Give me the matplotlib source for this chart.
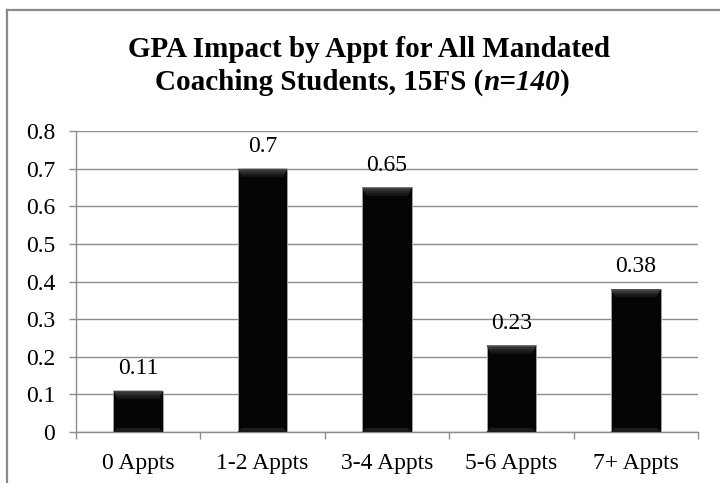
import matplotlib
matplotlib.use("Agg")
import matplotlib.pyplot as plt
from matplotlib.patches import Polygon
from matplotlib.lines import Line2D

categories = ["0 Appts", "1-2 Appts", "3-4 Appts", "5-6 Appts", "7+ Appts"]
values = [0.11, 0.70, 0.65, 0.23, 0.38]
value_labels = ["0.11", "0.7", "0.65", "0.23", "0.38"]
yticks = [0, 0.1, 0.2, 0.3, 0.4, 0.5, 0.6, 0.7, 0.8]
ytick_labels = ["0", "0.1", "0.2", "0.3", "0.4", "0.5", "0.6", "0.7", "0.8"]

plt.rcParams['font.family'] = ['Liberation Serif', 'DejaVu Serif']

W, H = 720, 483
fig = plt.figure(figsize=(W / 100, H / 100), dpi=100)
ax = fig.add_axes([76 / W, 1 - 432 / H, (698 - 76) / W, (432 - 131) / H])

grid_c = '#8c8c8c'
n = len(categories)
xs = list(range(n))
bw = 0.4
bars = ax.bar(xs, values, width=bw, color='#050505', edgecolor='#a0a0a0',
              linewidth=0.7, zorder=3)

# bevel highlights derived from bar geometry (graded strips)
shades = ['#4a4a4a', '#363636', '#242424', '#161616']
for b in bars:
    x0, w, h = b.get_x(), b.get_width(), b.get_height()
    dx = w * 0.08
    dy = 0.022
    k = len(shades)
    for i, c in enumerate(shades):
        f0, f1 = i / k, (i + 1) / k
        poly = Polygon([(x0 + dx * f0, h - dy * f0), (x0 + w - dx * f0, h - dy * f0),
                        (x0 + w - dx * f1, h - dy * f1), (x0 + dx * f1, h - dy * f1)],
                       closed=True, facecolor=c, edgecolor='none', zorder=4)
        ax.add_patch(poly)
    bot = Polygon([(x0, 0), (x0 + w, 0), (x0 + w - dx, dy * 0.5), (x0 + dx, dy * 0.5)],
                  closed=True, facecolor='#1c1c1c', edgecolor='none', zorder=4)
    ax.add_patch(bot)

for x, v, lab in zip(xs, values, value_labels):
    ax.annotate(lab, (x, v), xytext=(0, 12), textcoords='offset points',
                ha='center', va='baseline', fontsize=17, color='black')

ax.set_xlim(-0.5, n - 0.5)
ax.set_ylim(0, 0.8)
ax.set_yticks(yticks)
ax.set_yticklabels(ytick_labels)
ax.set_xticks(xs)
ax.set_xticklabels(categories)
ax.set_xticks([i - 0.5 for i in range(n + 1)], minor=True)

ax.yaxis.grid(True, color=grid_c, linewidth=1.0, zorder=0)
ax.set_axisbelow(True)
for s in ['top', 'right']:
    ax.spines[s].set_visible(False)
for s in ['left', 'bottom']:
    ax.spines[s].set_color(grid_c)
    ax.spines[s].set_linewidth(1.0)

ax.tick_params(axis='y', which='major', length=5, width=1.0, color=grid_c,
               labelsize=17, pad=10)
ax.tick_params(axis='x', which='major', length=0, labelsize=17, pad=15)
ax.tick_params(axis='x', which='minor', length=5, width=1.0, color=grid_c)

# Title
fig.text(369 / W, 1 - 57 / H, "GPA Impact by Appt for All Mandated",
         ha='center', va='baseline', fontsize=21, fontweight='bold')

parts = [("Coaching Students, 15FS (", 'normal'), ("n=140", 'italic'), (")", 'normal')]
renderer = fig.canvas.get_renderer()
texts = []
total = 0
for s, st in parts:
    t = fig.text(0, 1 - 90 / H, s, ha='left', va='baseline', fontsize=21,
                 fontweight='bold', fontstyle=st)
    wpx = t.get_window_extent(renderer).width
    texts.append((t, wpx))
    total += wpx
x = 362.5 - total / 2
for t, wpx in texts:
    t.set_x(x / W)
    x += wpx

# outer border (cropped frame)
fig.add_artist(Line2D([7 / W, 7 / W], [0, 1 - 10 / H], color='#8a8a8a', linewidth=1.6,
                      transform=fig.transFigure))
fig.add_artist(Line2D([7 / W, 1], [1 - 10 / H, 1 - 10 / H], color='#8a8a8a', linewidth=1.6,
                      transform=fig.transFigure))

fig.savefig("out.png", dpi=100)
